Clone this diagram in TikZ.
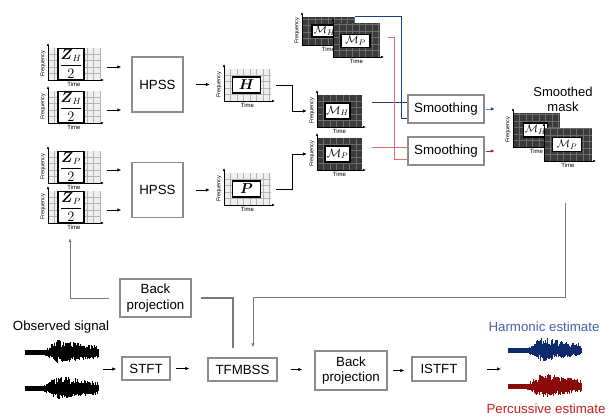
\documentclass[tikz,border=0pt]{standalone}
\usepackage{amsmath,amssymb}
\usepackage{fontspec}
\setmainfont{Liberation Sans}
\usetikzlibrary{arrows.meta}
\definecolor{BoxGray}{HTML}{8C8C8C}
\definecolor{LineGray}{HTML}{7A7A7A}
\definecolor{SpecFill}{HTML}{EFEFEF}
\definecolor{SpecRule}{HTML}{B4B4B4}
\definecolor{MaskFill}{HTML}{3A3A3A}
\definecolor{MaskRule}{HTML}{6C6C6C}
\definecolor{Navy}{HTML}{1F3C88}
\definecolor{SkyLine}{HTML}{6F8EC8}
\definecolor{RoseLine}{HTML}{E36B6B}
\definecolor{Crimson}{HTML}{C81E1E}
\definecolor{WaveNavy}{HTML}{0E2A6E}
\definecolor{WaveRed}{HTML}{8A0A0A}
\definecolor{HarmText}{HTML}{4263A8}

% time-frequency plot: [#1 y label], #2 name, #3 left x, #4 axis y, #5 width, #6 height, #7 look (spec/mask)
\newcommand{\tfplot}[7][Frequency]{%
  \fill[#7 bg] (#3,#4) rectangle ++(#5,-#6);
  \foreach \gx in {6.5,13,...,#5}
    \draw[#7 lines] (#3+\gx,#4) -- ++(0,-#6);
  \foreach \gy in {6.5,13,...,#6}
    \draw[#7 lines] (#3,#4-\gy) -- ++(#5,0);
  \draw[axline] (#3,#4) -- ++(#5+4,0);
  \draw[axline] (#3,#4) -- ++(0,-#6-5);
  \node[axlbl] at (#3+#5/2,#4+4.5) {Time};
  \node[axlbl, font=\fontsize{5.5}{6}\selectfont, rotate=90] at (#3-5,#4-#6/2) {#1};
  \node[inner sep=0pt, minimum width=#5, minimum height=#6] (#2) at (#3+#5/2,#4-#6/2) {};
}

% audio waveform: #1 left x, #2 centre y, #3 colour, #4 seed
\newcommand{\waveform}[4]{%
  \pgfmathsetseed{#4}
  \foreach \i in {0,...,146}{
    \pgfmathsetmacro\wt{\i/146}
    \pgfmathsetmacro\wenv{2.8+55*max(0,min(\wt,0.45)-0.25)-12*max(0,\wt-0.45)}
    \pgfmathsetmacro\wup{max(2.6,\wenv*(0.35+0.65*rnd))}
    \pgfmathsetmacro\wdn{max(2.4,0.75*\wenv*(0.35+0.65*rnd))}
    \draw[#3, line width=0.75pt] (#1+\i/2,#2-\wup) -- (#1+\i/2,#2+\wdn);
  }}

\begin{document}
\begin{tikzpicture}[x=1pt, y=-1pt,
    spec bg/.style={fill=SpecFill},
    spec lines/.style={draw=SpecRule, line width=0.5pt},
    mask bg/.style={fill=MaskFill},
    mask lines/.style={draw=MaskRule, line width=0.5pt},
    axline/.style={-{Latex[length=3pt,width=2.6pt]}, line width=0.6pt},
    axlbl/.style={font=\fontsize{6}{7}\selectfont, inner sep=0pt},
    inbox/.style={draw=black, line width=1.2pt, fill=white, inner sep=0pt},
    proc/.style={draw=BoxGray, line width=1.5pt, fill=white, align=center,
                 font=\fontsize{13.3}{15.5}\selectfont},
    ar/.style={-{Latex[length=4pt,width=3.6pt]}, line width=0.9pt},
    fb/.style={draw=LineGray, line width=1.3pt},
    hline/.style={draw=Navy, line width=0.9pt},
    pline/.style={draw=RoseLine, line width=0.9pt},
    txt/.style={font=\fontsize{13.3}{15.5}\selectfont, align=center}]
  \useasboundingbox (0,0) rectangle (616,417);

  % input spectrograms
  \tfplot{zh1}{48}{80}{52}{32}{spec}
  \tfplot{zh2}{48}{123}{52}{32}{spec}
  \tfplot{zp1}{48}{183}{52}{32}{spec}
  \tfplot{zp2}{48}{223}{52}{32}{spec}
  \foreach \n/\s in {zh1/H, zh2/H, zp1/P, zp2/P}
    \node[inbox, minimum width=26, minimum height=31, font=\fontsize{13.5}{14}\selectfont]
      at ([xshift=-3pt]\n) {$\dfrac{\boldsymbol{Z}_{\s}}{2}$};

  % HPSS
  \node[proc, minimum width=51, minimum height=55] (hpssH) at (157.5,84.5) {HPSS};
  \node[proc, minimum width=51, minimum height=55] (hpssP) at (157.5,190) {HPSS};
  \foreach \n/\h in {zh1/hpssH, zh2/hpssH, zp1/hpssP, zp2/hpssP}
    \draw[ar, shorten <=7pt, shorten >=10pt] ([yshift=-3pt]\n.east) -- ([yshift=-3pt]\n.east -| \h.west);

  \tfplot{hs}{224}{101}{47}{32}{spec}
  \tfplot{ps}{224}{205}{47}{32}{spec}
  \node[inbox, minimum width=28, minimum height=16, font=\fontsize{14}{15}\selectfont] at ([xshift=-1pt]hs) {$\boldsymbol{H}$};
  \node[inbox, minimum width=28, minimum height=16, font=\fontsize{14}{15}\selectfont] at ([xshift=-1pt]ps) {$\boldsymbol{P}$};
  \draw[ar, shorten <=12pt, shorten >=14pt] (hpssH.east) -- (hpssH.east -| hs.west);
  \draw[ar, shorten <=12pt, shorten >=14pt] (hpssP.east) -- (hpssP.east -| ps.west);

  % masks
  \tfplot{mh}{317}{127}{45}{32}{mask}
  \tfplot{mp}{317}{170}{45}{32}{mask}
  \node[inbox, minimum width=25, minimum height=16, font=\fontsize{12}{13}\selectfont] at ([xshift=-2pt]mh) {$\mathcal{M}_H$};
  \node[inbox, minimum width=25, minimum height=16, font=\fontsize{12}{13}\selectfont] at ([xshift=-2pt]mp) {$\mathcal{M}_P$};
  \draw[ar, shorten <=5pt, shorten >=10pt] (hs.east) -- ++(21,0) |- (mh.west);
  \draw[ar, shorten <=5pt, shorten >=10pt] (ps.east) -- ++(21,0) |- (mp.west);

  \tfplot{mht}{302}{45}{53}{28}{mask}
  \node[inbox, minimum width=25, minimum height=12, font=\fontsize{11}{12}\selectfont] at ([xshift=-4pt]mht) {$\mathcal{M}_H$};
  \tfplot[]{mpt}{333}{57}{47}{34}{mask}
  \node[inbox, minimum width=29, minimum height=13, font=\fontsize{11}{12}\selectfont] at ([xshift=-1pt,yshift=-1pt]mpt) {$\mathcal{M}_P$};

  % smoothing
  \node[proc, minimum width=76, minimum height=28] (smH) at (446,109) {Smoothing};
  \node[proc, minimum width=76, minimum height=28] (smP) at (446,151) {Smoothing};
  \draw[hline] ([xshift=10pt,yshift=9pt]mh.east) -- ([yshift=9pt]mh.east -| smH.west);
  \draw[hline] (mht.north east) -| ([xshift=-6pt,yshift=-9pt]smH.west) -- ([yshift=-9pt]smH.west);
  \draw[pline] ([xshift=10pt,yshift=7pt]mp.east) -- ([yshift=7pt]mp.east -| smP.west);
  \draw[pline] ([xshift=8pt,yshift=3pt]mpt.east) -| ([xshift=-13pt,yshift=-8pt]smP.west) -- ([yshift=-8pt]smP.west);
  \draw[draw=SkyLine, line width=0.9pt, -{Latex[length=4pt,width=3.6pt,color=Navy]}, shorten <=1pt] (smH.east) -- ++(10,0);
  \draw[draw=Crimson, line width=0.9pt, -{Latex[length=4pt,width=3.6pt]}, shorten <=1pt] (smP.east) -- ++(10,0);

  \node[txt, font=\fontsize{13}{15}\selectfont] (smlbl) at (563,99) {Smoothed\\mask};
  \tfplot{msh}{513}{147}{47}{34}{mask}
  \node[inbox, minimum width=24, minimum height=14, font=\fontsize{11}{12}\selectfont] at ([xshift=-1pt]msh) {$\mathcal{M}_H$};
  \tfplot[]{msp}{544}{161}{48}{33}{mask}
  \node[inbox, minimum width=29, minimum height=14, font=\fontsize{11}{12}\selectfont] at ([xshift=-1pt]msp) {$\mathcal{M}_P$};

  % signal chain
  \node[txt] (obslbl) at (61,327) {Observed signal};
  \waveform{25}{353}{black}{11}
  \waveform{25}{389}{black}{23}
  \coordinate (obs) at (98,369);
  \node[proc, minimum width=48, minimum height=23] (stft) at (146,368.5) {STFT};
  \node[proc, minimum width=69, minimum height=23] (tfm) at (242.5,369.5) {TFMBSS};
  \node[proc, minimum width=72, minimum height=39] (bp2) at (351,370.5) {Back\\projection};
  \node[proc, minimum width=54, minimum height=24] (istft) at (439,369) {ISTFT};
  \coordinate (est) at (508,369);
  \draw[ar, shorten <=5pt, shorten >=5pt] (obs) -- (obs -| stft.west);
  \draw[ar, shorten <=5pt, shorten >=18pt] (stft.east) -- (stft.east -| tfm.west);
  \draw[ar, shorten <=13pt, shorten >=12pt] (tfm.east) -- (tfm.east -| bp2.west);
  \draw[ar, shorten <=5pt, shorten >=7pt] (bp2.east) -- (bp2.east -| istft.west);
  \draw[ar, shorten <=20pt, shorten >=7pt] (istft.east) -- (istft.east -| est);

  \node[txt, text=HarmText] (hlbl) at (544,327) {Harmonic estimate};
  \waveform{508}{351}{WaveNavy}{37}
  \waveform{508}{387}{WaveRed}{51}
  \node[txt, text=Crimson] (plbl) at (546,409) {Percussive estimate};

  % feedback paths
  \node[proc, minimum width=71, minimum height=38] (bp1) at (155.5,298) {Back\\projection};
  \draw[fb] ([xshift=-9.5pt,yshift=9pt]tfm.north) |- ([xshift=9pt]bp1.east);
  \draw[fb, ar] ([xshift=-10pt]bp1.west) -| ([xshift=-4pt,yshift=-15pt]zp2.south);
  \draw[fb, ar] ([xshift=-3pt,yshift=-42pt]msp.south) |- ([xshift=10.5pt,yshift=60pt]tfm.north)
    -- ([xshift=10.5pt,yshift=10pt]tfm.north);
\end{tikzpicture}
\end{document}
